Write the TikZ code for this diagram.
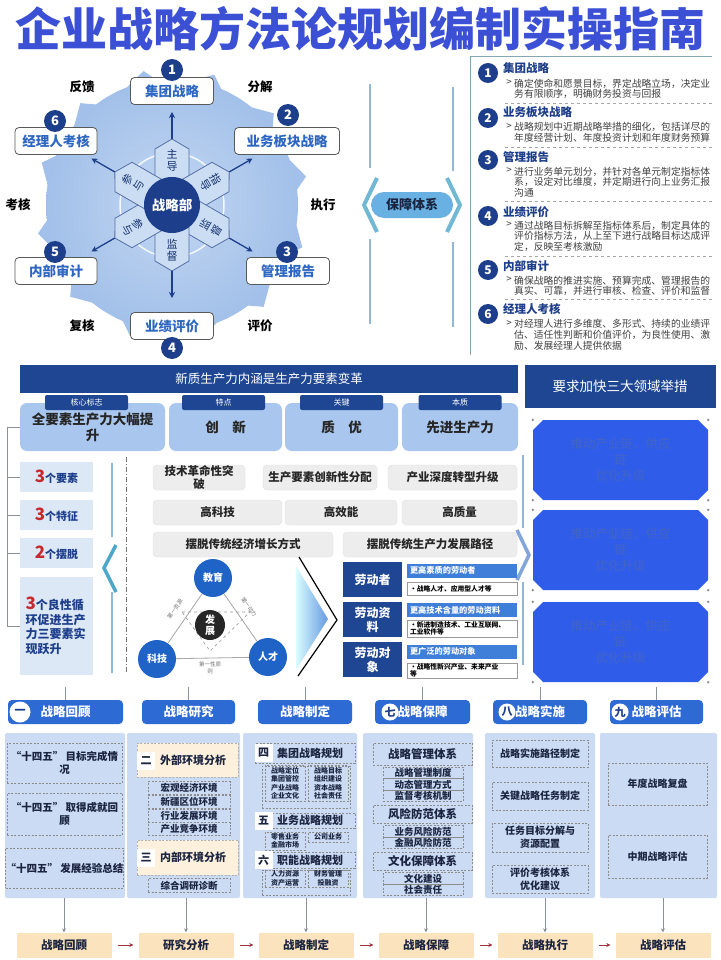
\documentclass[tikz,border=0pt]{standalone}
\usepackage{fontspec}
\setmainfont{Noto Sans CJK SC}
\usepackage{tikz}
\usetikzlibrary{arrows.meta,positioning,shapes.geometric,shapes.misc,calc}
\definecolor{navy}{HTML}{1D3E8A}
\definecolor{titleblue}{HTML}{3B50D4}
\definecolor{gearout}{HTML}{A2C0E9}
\definecolor{gearin}{HTML}{C3D7F2}
\definecolor{petal}{HTML}{CADDF3}
\definecolor{boxtext}{HTML}{2E67C2}
\definecolor{bar}{HTML}{1F4693}
\definecolor{colblue}{HTML}{A9C7EE}
\definecolor{paleblue}{HTML}{DDE8F7}
\definecolor{panel}{HTML}{CADBF3}
\definecolor{headblue}{HTML}{2E6AD3}
\definecolor{peach}{HTML}{FDF0DD}
\definecolor{flowfill}{HTML}{FBE3BE}
\definecolor{linegray}{HTML}{8C9099}
\definecolor{royal}{HTML}{2F5DEA}
\definecolor{royaltext}{HTML}{4464C4}
\definecolor{midblue}{HTML}{3F7FD9}
\definecolor{darkred}{HTML}{A3323F}
\definecolor{steel}{HTML}{90B7D6}
\definecolor{teal}{HTML}{4EA7C8}
\definecolor{pill}{HTML}{68B1E2}
\definecolor{numred}{HTML}{C62A2F}
\definecolor{ink}{HTML}{1B2440}
\definecolor{tribub}{HTML}{1F63C6}
\newcommand{\fsz}[2]{\fontsize{#1}{#2}\selectfont}

\begin{document}
\begin{tikzpicture}[x=1pt,y=-1pt,
    every node/.style={inner sep=0pt,align=center},
    rolebox/.style={draw=black!65,fill=white,rounded corners=4pt,line width=0.8pt,
                    minimum height=27pt,text=boxtext,font=\fsz{13.5}{14}\bfseries},
    numdot/.style={circle,fill=navy,text=white,minimum size=22pt,font=\fsz{13}{13}\bfseries},
    spoke/.style={navy,line width=1.3pt,-{Stealth[length=6pt,width=6pt]}},
    cue/.style={font=\fsz{12.5}{13}\bfseries,text=black},
    petaltext/.style={font=\fsz{11}{12},text=navy!80!black},
    listnum/.style={circle,fill=navy,text=white,minimum size=20pt,font=\fsz{12}{12}\bfseries},
    listhead/.style={anchor=west,font=\fsz{11.5}{12}\bfseries,text=navy},
    listtext/.style={anchor=north west,align=left,font=\fsz{9.8}{10.8},text=black!75},
    sepline/.style={black!35,dashed,line width=0.6pt},
    barbox/.style={fill=bar,text=white},
    tab/.style={fill=bar,text=white,rounded corners=2pt,minimum width=83pt,minimum height=15pt,font=\fsz{8}{8}},
    colbox/.style={fill=colblue,rounded corners=7pt,minimum height=48pt,font=\fsz{13.5}{16}\bfseries,text=black!85},
    countbox/.style={fill=paleblue,minimum width=73pt,font=\fsz{11}{14}\bfseries,text=navy},
    graybox/.style={fill=black!7,draw=black!12,rounded corners=4pt,minimum height=25pt,font=\fsz{11.5}{12.5}\bfseries,text=black!85},
    bubble/.style={circle,fill=tribub,text=white,minimum size=38pt,font=\fsz{10}{10}\bfseries},
    edgetext/.style={font=\fsz{5.5}{6.5},text=black!55},
    laborbox/.style={fill=bar,text=white,minimum width=59pt,minimum height=35pt,font=\fsz{12}{14}\bfseries},
    labhead/.style={fill=midblue,text=white,text width=104pt,inner xsep=3pt,align=left,minimum height=14pt,font=\fsz{8.2}{9}\bfseries},
    labsub/.style={fill=white,draw=black!40,line width=0.5pt,text width=104pt,inner xsep=3pt,align=left,font=\fsz{6.8}{7.6}\bfseries,text=black},
    fieldbox/.style={chamfered rectangle,chamfered rectangle xsep=5pt,chamfered rectangle ysep=5pt,fill=royal,
                     minimum width=175pt,minimum height=80pt,text=royaltext,font=\fsz{12.5}{16}},
    headbox/.style={fill=headblue,rounded corners=4pt,minimum height=24pt,text=white,font=\fsz{12.5}{13}\bfseries},
    ordinal/.style={circle,fill=white,text=navy,minimum size=17pt,font=\fsz{11}{11}\bfseries},
    panelbox/.style={fill=panel,rounded corners=2pt,minimum height=165pt},
    dashbox/.style={draw=black!45,dash pattern=on 2pt off 1.5pt,line width=0.6pt,font=\fsz{10.5}{13.5}\bfseries,text=ink},
    itembox/.style={draw=black!45,dash pattern=on 2pt off 1.5pt,line width=0.6pt,font=\fsz{9.5}{10}\bfseries,text=ink},
    tinybox/.style={draw=black!45,dash pattern=on 2pt off 1.5pt,line width=0.5pt,font=\fsz{7}{8.5}\bfseries,text=ink},
    peachbox/.style={fill=peach,draw=black!30,dash pattern=on 2pt off 1.5pt,line width=0.5pt},
    squarebox/.style={fill=white,minimum size=18pt,text=ink,font=\fsz{11}{11}\bfseries},
    flowbox/.style={fill=flowfill,minimum width=95pt,minimum height=25pt,font=\fsz{11.5}{12}\bfseries,text=ink},
    link/.style={linegray,line width=0.8pt},
    drop/.style={linegray,line width=0.8pt,-{Stealth[length=4pt,width=4pt]}},
    flowarr/.style={darkred,line width=1pt,-{Stealth[length=4pt,width=4pt]},shorten <=6pt,shorten >=5pt}
  ]
  \useasboundingbox[fill=white] (0,0) rectangle (720,960);

  \node[font=\fsz{46}{46}\bfseries,text=titleblue] (title) at (360,29) {企业战略方法论规划编制实操指南};

  % strategy wheel
  \begin{scope}[shift={(172,205)}]
    \foreach \a in {0,30,...,330}
      \fill[gearout] ({\a+7}:124) -- ({\a+18}:137) -- ({\a+24}:124) -- cycle;
    \shade[inner color=gearin,outer color=gearout] (0,0) circle (126);
    \draw[white,line width=1.5pt,opacity=0.85] (0,0) circle (52);
    \foreach \a in {90,30,-30,-90,-150,150}
      \draw[fill=petal,draw=navy!75,line width=0.8pt,rotate=\a] (22,-17) -- (56,-17) -- (66,0) -- (56,17) -- (22,17) -- cycle;
    \node[circle,fill=navy,minimum size=56pt,text=white,font=\fsz{13.5}{14}\bfseries] (hub) at (0,0) {战略部};
    \node[petaltext] (pa) at (90:45pt) {主\\导};
    \node[petaltext,rotate=-60] (pb) at (30:45pt) {指\\导};
    \node[petaltext,rotate=60] (pc) at (-30:45pt) {监\\督};
    \node[petaltext] (pd) at (-90:45pt) {监\\督};
    \node[petaltext,rotate=-60] (pe) at (-150:45pt) {参\\与};
    \node[petaltext,rotate=60] (pf) at (150:45pt) {参\\与};
    \foreach \a/\n in {90/ea,30/eb,-30/ec,-90/ed,-150/ee,150/ef}
      \coordinate (\n) at (\a:93pt);
  \end{scope}
  \foreach \n in {ea,eb,ec,ed,ee,ef}
    \draw[spoke,shorten <=38pt] (hub) -- (\n);

  \node[rolebox,minimum width=83pt] (group) at (172,91) {集团战略};
  \node[rolebox,minimum width=105pt] (sector) at (287,141) {业务板块战略};
  \node[rolebox,minimum width=83pt] (report) at (288,271) {管理报告};
  \node[rolebox,minimum width=83pt] (perf) at (172,326) {业绩评价};
  \node[rolebox,minimum width=82pt] (audit) at (56,271) {内部审计};
  \node[rolebox,minimum width=82pt] (mgr) at (56,141) {经理人考核};
  \node[numdot] (g1) at (172,70) {1};
  \node[numdot] (g2) at (288,115) {2};
  \node[numdot] (g3) at (287,252) {3};
  \node[numdot] (g4) at (172,348) {4};
  \node[numdot] (g5) at (55,252) {5};
  \node[numdot] (g6) at (55,121) {6};
  \node[cue] (fb) at (82,87) {反馈};
  \node[cue] (split) at (260,87) {分解};
  \node[cue] (run) at (323,205) {执行};
  \node[cue] (rate) at (260,326) {评价};
  \node[cue] (recheck) at (82,326) {复核};
  \node[cue] (assess) at (18,205) {考核};

  % support system
  \draw[steel,line width=1.6pt] (370,84) -- (370,168) (370,239) -- (370,324);
  \draw[steel,line width=1.6pt] (453,87) -- (453,171) (453,242) -- (453,327);
  \draw[teal!80,line width=4pt] (377,178) -- (364,205) -- (377,232);
  \draw[teal!80,line width=4pt] (447,178) -- (460,205) -- (447,232);
  \node[fill=pill,rounded corners=13pt,minimum width=82pt,minimum height=26pt,
        font=\fsz{13}{13}\bfseries,text=ink] (guard) at (412,205) {保障体系};

  % list panel
  \draw[black!35!teal!60,line width=1pt] (712,57) -- (470,57) -- (470,355);
  \node[listnum] (l1) at (488,73) {1};
  \node[listhead] (t1) at (503,68) {集团战略};
  \node[font=\fsz{9.8}{10},text=black!75] (q1) at (509,83) {>};
  \node[listtext] (d1) at (514,78.5) {确定使命和愿景目标，界定战略立场，决定业\\务有限顺序，明确财务投资与回报};
  \draw[sepline] (505,103) -- (712,103);
  \node[listnum] (l2) at (488,118) {2};
  \node[listhead] (t2) at (503,112) {业务板块战略};
  \node[font=\fsz{9.8}{10},text=black!75] (q2) at (509,127) {>};
  \node[listtext] (d2) at (514,122.5) {战略规划中近期战略举措的细化，包括详尽的\\年度经营计划、年度投资计划和年度财务预算};
  \draw[sepline] (505,147) -- (712,147);
  \node[listnum] (l3) at (488,160) {3};
  \node[listhead] (t3) at (503,157) {管理报告};
  \node[font=\fsz{9.8}{10},text=black!75] (q3) at (509,171) {>};
  \node[listtext] (d3) at (514,166.5) {进行业务单元划分，并针对各单元制定指标体\\系，设定对比维度，并定期进行向上业务汇报\\沟通};
  \draw[sepline] (505,201) -- (712,201);
  \node[listnum] (l4) at (488,216) {4};
  \node[listhead] (t4) at (503,212) {业绩评价};
  \node[font=\fsz{9.8}{10},text=black!75] (q4) at (509,225) {>};
  \node[listtext] (d4) at (514,220.5) {通过战略目标拆解至指标体系后，制定具体的\\评价指标方法，从上至下进行战略目标达成评\\定，反映至考核激励};
  \draw[sepline] (505,256) -- (712,256);
  \node[listnum] (l5) at (488,270) {5};
  \node[listhead] (t5) at (503,266) {内部审计};
  \node[font=\fsz{9.8}{10},text=black!75] (q5) at (509,280) {>};
  \node[listtext] (d5) at (514,275.5) {确保战略的推进实施、预算完成、管理报告的\\真实、可靠，并进行审核、检查、评价和监督};
  \draw[sepline] (505,299) -- (712,299);
  \node[listnum] (l6) at (488,314) {6};
  \node[listhead] (t6) at (503,309) {经理人考核};
  \node[font=\fsz{9.8}{10},text=black!75] (q6) at (509,324) {>};
  \node[listtext] (d6) at (514,319.5) {对经理人进行多维度、多形式、持续的业绩评\\估、适任性判断和价值评价，为良性使用、激\\励、发展经理人提供依据};

  % new productive forces
  \node[barbox,minimum width=498pt,minimum height=28pt,font=\fsz{12.5}{13}] (essence) at (269,378.5) {新质生产力内涵是生产力要素变革};
  \node[barbox,minimum width=191pt,minimum height=43pt,font=\fsz{13.5}{14}] (demand) at (620,386.5) {要求加快三大领域举措};
  \node[colbox,minimum width=145pt] (c1) at (92.5,427) {全要素生产力大幅提\\升};
  \node[colbox,minimum width=113pt] (c2) at (225.5,427) {创\quad 新};
  \node[colbox,minimum width=113pt] (c3) at (341.5,427) {质\quad 优};
  \node[colbox,minimum width=116pt] (c4) at (460,427) {先进生产力};
  \node[tab] (tb1) at (86.5,402.5) {核心标志};
  \node[tab] (tb2) at (223.5,402.5) {特点};
  \node[tab] (tb3) at (341.5,402.5) {关键};
  \node[tab] (tb4) at (460,402.5) {本质};

  \node[countbox,minimum height=30pt] (k1) at (56.5,477) {\textcolor{numred}{\fsz{17}{17}3}个要素};
  \node[countbox,minimum height=30pt] (k2) at (56.5,515) {\textcolor{numred}{\fsz{17}{17}3}个特征};
  \node[countbox,minimum height=30pt] (k3) at (56.5,553) {\textcolor{numred}{\fsz{17}{17}2}个摆脱};
  \node[countbox,minimum height=98pt,text width=62pt,align=left,font=\fsz{12}{14.5}\bfseries] (k4) at (56.5,626)
    {\textcolor{numred}{\fsz{17}{17}3}个良性循\\环促进生产\\力三要素实\\现跃升};
  \draw[link] (c1.west) -- (7,427) -- (7,626) -- (k4.west);
  \draw[link] (7,477) -- (k1.west);
  \draw[link] (7,515) -- (k2.west);
  \draw[link] (7,553) -- (k3.west);

  \draw[steel,line width=1.6pt] (112,463) -- (112,537) (112,592) -- (112,673);
  \draw[teal,line width=3.5pt] (116,545) -- (104,568) -- (116,592);
  \draw[black!55,line width=0.8pt,dash pattern=on 5pt off 2pt on 1pt off 2pt] (126,457) -- (126,673);

  \node[graybox,minimum width=92pt] (r11) at (199,477.5) {技术革命性突\\破};
  \node[graybox,minimum width=114pt] (r12) at (320,477.5) {生产要素创新性分配};
  \node[graybox,minimum width=129pt] (r13) at (452.5,477.5) {产业深度转型升级};
  \node[graybox,minimum width=129pt] (r21) at (217.5,512.5) {高科技};
  \node[graybox,minimum width=112pt] (r22) at (341,512.5) {高效能};
  \node[graybox,minimum width=115pt] (r23) at (459.5,512.5) {高质量};
  \node[graybox,minimum width=180pt] (r31) at (243,544.5) {摆脱传统经济增长方式};
  \node[graybox,minimum width=174pt] (r32) at (430,544.5) {摆脱传统生产力发展路径};

  \draw[steel,line width=1.6pt] (523,455) -- (523,528) (523,582) -- (523,665);
  \draw[steel!90!blue,line width=3.5pt] (517,530) -- (529,555) -- (517,580);

  \draw[black!40,dashed,line width=0.6pt] (182,612) -- (250,612) -- (210,651) -- cycle;
  \node[bubble] (edu) at (213,578) {教育};
  \node[bubble] (tech) at (157,659) {科技};
  \node[bubble] (talent) at (268,657) {人才};
  \node[circle,fill=black!85,text=white,minimum size=30pt,font=\fsz{10}{11}\bfseries] (grow) at (210,625) {发\\展};
  \draw[black!35,line width=0.8pt] (edu) -- (tech) (tech) -- (talent) (talent) -- (edu);
  \node[edgetext,rotate=55] (e1) at (175,609) {第一资源};
  \node[edgetext,rotate=-55] (e2) at (249,607) {第一动力};
  \node[edgetext] (e3) at (210,668) {第一性原\\则};

  \shade[left color=blue!8!cyan!15,right color=midblue!80] (296,566) -- (328,619) -- (296,670) -- cycle;
  \draw[black,line width=1.2pt] (299,557) -- (337,620) -- (298,676);

  \node[laborbox] (w1) at (372.5,579.5) {劳动者};
  \node[laborbox] (w2) at (372.5,619.5) {劳动资\\料};
  \node[laborbox] (w3) at (372.5,659.5) {劳动对\\象};
  \node[labhead] (h1x) at (462,570.5) {更高素质的劳动者};
  \node[labsub,minimum height=13pt] (s1x) at (462,588.5) {•战略人才、应用型人才等};
  \node[labhead] (h2x) at (462,610) {更高技术含量的劳动资料};
  \node[labsub,minimum height=17pt] (s2x) at (462,628.5) {•新进制造技术、工业互联网、\\工业软件等};
  \node[labhead] (h3x) at (462,651.5) {更广泛的劳动对象};
  \node[labsub,minimum height=15pt] (s3x) at (462,670.5) {•战略性新兴产业、未来产业\\等};

  \node[fieldbox] (fa) at (620.5,460) {推动产业链、供应\\链\\优化升级};
  \node[fieldbox] (fb) at (620.5,550) {推动产业链、供应\\链\\优化升级};
  \node[fieldbox] (fc) at (620.5,642) {推动产业链、供应\\链\\优化升级};
  \foreach \b in {fa,fb,fc}{
    \fill[black!45] (\b.west |- \b.north) circle (1.3) (\b.east |- \b.north) circle (1.3)
                    (\b.west |- \b.south) circle (1.3) (\b.east |- \b.south) circle (1.3);
  }

  % planning steps
  \node[headbox,minimum width=115pt] (st1) at (65.5,712) {战略回顾};
  \node[headbox,minimum width=93pt] (st2) at (188.5,712) {战略研究};
  \node[headbox,minimum width=94pt] (st3) at (305,712) {战略制定};
  \node[headbox,minimum width=95pt] (st4) at (422.5,712) {战略保障};
  \node[headbox,minimum width=94pt] (st5) at (540,712) {战略实施};
  \node[headbox,minimum width=93pt] (st6) at (656.5,712) {战略评估};
  \node[ordinal,minimum size=21pt] (o1) at (20,712) {一};
  \node[ordinal] (o7) at (390,712) {七};
  \node[ordinal] (o8) at (507,712) {八};
  \node[ordinal] (o9) at (620,712) {九};
  \foreach \s in {st1,st2,st3,st4,st5,st6}
    \draw[link] (\s.north) -- ++(0,-13);

  \node[panelbox,minimum width=120pt] (p1) at (65,815.5) {};
  \node[panelbox,minimum width=113pt] (p2) at (183.5,815.5) {};
  \node[panelbox,minimum width=114pt] (p3) at (300,815.5) {};
  \node[panelbox,minimum width=110pt] (p4) at (418,815.5) {};
  \node[panelbox,minimum width=110pt] (p5) at (540,815.5) {};
  \node[panelbox,minimum width=117pt] (p6) at (658.5,815.5) {};

  \node[dashbox,minimum width=115pt,minimum height=40pt] (v1) at (64.5,763) {“十四五” 目标完成情\\况};
  \node[dashbox,minimum width=115pt,minimum height=42pt] (v2) at (64.5,814) {“十四五” 取得成就回\\顾};
  \node[dashbox,minimum width=115pt,minimum height=40pt] (v3) at (64.5,868) {“十四五” 发展经验总结};

  \node[peachbox,minimum width=101pt,minimum height=34pt] (ext) at (187.5,760) {};
  \node[squarebox] (n2) at (146,761) {二};
  \node[anchor=west,font=\fsz{11}{11}\bfseries,text=ink] (extl) at (160,760) {外部环境分析};
  \node[itembox,minimum width=82pt,minimum height=13pt] (x1) at (189,788) {宏观经济环境};
  \node[itembox,minimum width=82pt,minimum height=13pt] (x2) at (189,802) {新疆区位环境};
  \node[itembox,minimum width=82pt,minimum height=13pt] (x3) at (189,815.5) {行业发展环境};
  \node[itembox,minimum width=82pt,minimum height=13pt] (x4) at (189,829) {产业竞争环境};
  \node[peachbox,minimum width=101pt,minimum height=35pt] (int) at (187.5,857.5) {};
  \node[squarebox] (n3) at (146,858) {三};
  \node[anchor=west,font=\fsz{11}{11}\bfseries,text=ink] (intl) at (160,857.5) {内部环境分析};
  \node[itembox,minimum width=82pt,minimum height=14pt] (x5) at (189,885.5) {综合调研诊断};

  \node[itembox,minimum width=100pt,minimum height=20pt] (g4row) at (305,753) {};
  \node[squarebox] (n4) at (263.5,753) {四};
  \node[anchor=west,font=\fsz{11}{11}\bfseries,text=ink] (g4l) at (277,753) {集团战略规划};
  \node[itembox,minimum width=88pt,minimum height=42pt] (g4blk) at (306,787) {};
  \node[tinybox,minimum width=40pt,minimum height=36pt] (g4a) at (285,783.5) {战略定位\\集团管控\\产业战略\\企业文化};
  \node[tinybox,minimum width=40pt,minimum height=36pt] (g4b) at (328,783.5) {战略目标\\组织建设\\资本战略\\社会责任};
  \node[itembox,minimum width=100pt,minimum height=15pt] (g5row) at (305,820.5) {};
  \node[squarebox] (n5) at (263.5,820.5) {五};
  \node[anchor=west,font=\fsz{11}{11}\bfseries,text=ink] (g5l) at (277,820.5) {业务战略规划};
  \node[tinybox,minimum width=40pt,minimum height=18pt] (g5a) at (285,841) {零售业务\\金融市场};
  \node[tinybox,minimum width=40pt,minimum height=10pt] (g5b) at (328,837) {公司业务};
  \node[itembox,minimum width=100pt,minimum height=16pt] (g6row) at (305,860) {};
  \node[squarebox] (n6) at (263.5,860) {六};
  \node[anchor=west,font=\fsz{11}{11}\bfseries,text=ink] (g6l) at (277,860) {职能战略规划};
  \node[itembox,minimum width=88pt,minimum height=25pt] (g6blk) at (306,882.5) {};
  \node[tinybox,minimum width=40pt,minimum height=17pt] (g6a) at (285,878.5) {人力资源\\资产运营};
  \node[tinybox,minimum width=40pt,minimum height=17pt] (g6b) at (328,878.5) {财务管理\\投融资};

  \node[itembox,minimum width=99pt,minimum height=22pt,font=\fsz{11.5}{12}\bfseries] (a1) at (422.5,754) {战略管理体系};
  \node[itembox,minimum width=80pt,minimum height=11.5pt] (a11) at (423,773) {战略管理制度};
  \node[itembox,minimum width=80pt,minimum height=11.5pt] (a12) at (423,784.5) {动态管理方式};
  \node[itembox,minimum width=80pt,minimum height=11.5pt] (a13) at (423,796) {监督考核机制};
  \node[itembox,minimum width=99pt,minimum height=18pt,font=\fsz{11.5}{12}\bfseries] (a2) at (422.5,814) {风险防范体系};
  \node[itembox,minimum width=80pt,minimum height=11.5pt] (a21) at (423,831.5) {业务风险防范};
  \node[itembox,minimum width=80pt,minimum height=11.5pt] (a22) at (423,843) {金融风险防范};
  \node[itembox,minimum width=99pt,minimum height=18pt,font=\fsz{11.5}{12}\bfseries] (a3) at (422.5,861) {文化保障体系};
  \node[itembox,minimum width=80pt,minimum height=11.5pt] (a31) at (423,878.5) {文化建设};
  \node[itembox,minimum width=80pt,minimum height=11.5pt] (a32) at (423,890) {社会责任};

  \node[dashbox,minimum width=96pt,minimum height=27pt,font=\fsz{10}{13}\bfseries] (m1) at (540,753.5) {战略实施路径制定};
  \node[dashbox,minimum width=96pt,minimum height=28pt,font=\fsz{10}{13}\bfseries] (m2) at (540,796) {关键战略任务制定};
  \node[dashbox,minimum width=96pt,minimum height=29pt,font=\fsz{10}{13}\bfseries] (m3) at (540,837.5) {任务目标分解与\\资源配置};
  \node[dashbox,minimum width=96pt,minimum height=28pt,font=\fsz{10}{13}\bfseries] (m4) at (540,879) {评价考核体系\\优化建议};

  \node[dashbox,minimum width=99pt,minimum height=42pt,font=\fsz{10}{13}\bfseries] (y1) at (657.5,784) {年度战略复盘};
  \node[dashbox,minimum width=99pt,minimum height=43pt,font=\fsz{10}{13}\bfseries] (y2) at (657.5,856.5) {中期战略评估};

  \node[flowbox] (f1) at (64,945) {战略回顾};
  \node[flowbox] (f2) at (186,945) {研究分析};
  \node[flowbox] (f3) at (306,945) {战略制定};
  \node[flowbox] (f4) at (426,945) {战略保障};
  \node[flowbox] (f5) at (545,945) {战略执行};
  \node[flowbox] (f6) at (663,945) {战略评估};
  \draw[drop] (f1.north |- p1.south) -- (f1.north);
  \draw[drop] (f2.north |- p2.south) -- (f2.north);
  \draw[drop] (f3.north |- p3.south) -- (f3.north);
  \draw[drop] (f4.north |- p4.south) -- (f4.north);
  \draw[drop] (f5.north |- p5.south) -- (f5.north);
  \draw[drop] (f6.north |- p6.south) -- (f6.north);
  \draw[flowarr] (f1) -- (f2);
  \draw[flowarr] (f2) -- (f3);
  \draw[flowarr] (f3) -- (f4);
  \draw[flowarr] (f4) -- (f5);
  \draw[flowarr] (f5) -- (f6);
\end{tikzpicture}
\end{document}
